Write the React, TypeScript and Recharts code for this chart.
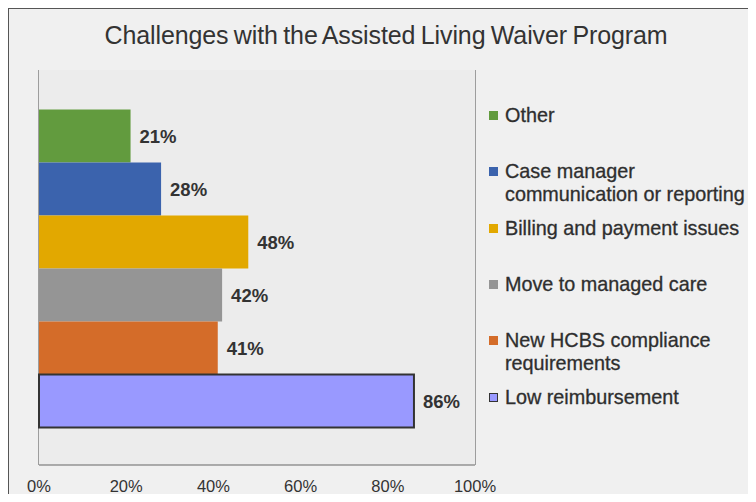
import React from "react"
import { Bar, BarChart, CartesianGrid, LabelList, XAxis, YAxis } from "recharts"

const seriesKeys = ["other", "caseManager", "billing", "managedCare", "hcbs", "reimbursement"]
const seriesNames = [
  "Other",
  "Case manager communication or reporting",
  "Billing and payment issues",
  "Move to managed care",
  "New HCBS compliance requirements",
  "Low reimbursement",
]
const seriesValues = [21, 28, 48, 42, 41, 86]
const seriesColors = ["#629b3e", "#3b63ad", "#e2a800", "#959595", "#d46c29", "#9999ff"]
const legendLines = [
  ["Other"],
  ["Case manager", "communication or reporting"],
  ["Billing and payment issues"],
  ["Move to managed care"],
  ["New HCBS compliance", "requirements"],
  ["Low reimbursement"],
]
const xTicks = [0, 20, 40, 60, 80, 100]

const row: Record<string, number | string> = { name: "Challenges" }
seriesKeys.forEach((k, i) => {
  row[k] = seriesValues[i]
})
const data = [row]

const font = "'Liberation Sans', Arial, sans-serif"

function ChartLegend() {
  return (
    <div
      style={{
        position: "absolute",
        left: 489,
        top: 104,
        fontFamily: font,
        fontSize: 19.8,
        color: "#2e2e2e",
        WebkitTextStroke: "0.3px #2e2e2e",
      }}
    >
      {legendLines.map((lines, i) => (
        <div key={i} style={{ position: "absolute", top: i * 56.3, left: 0, whiteSpace: "nowrap", lineHeight: "23px" }}>
          <span
            style={{
              position: "absolute",
              left: 0,
              top: 7,
              width: i === 5 ? 7 : 9,
              height: i === 5 ? 7 : 9,
              background: seriesColors[i],
              border: i === 5 ? "1px solid #333" : "none",
            }}
          />
          <div style={{ marginLeft: 16 }}>
            {lines.map((l, j) => (
              <div key={j}>{l}</div>
            ))}
          </div>
        </div>
      ))}
    </div>
  )
}

export default function App() {
  return (
    <div style={{ position: "relative", width: 756, height: 502, margin: -8, overflow: "hidden", background: "#fff" }}>
      <div
        style={{
          position: "absolute",
          left: 7,
          top: 7,
          width: 760,
          height: 510,
          border: "2px solid #555",
          background: "#f0f0f0",
        }}
      />
      <div
        style={{
          position: "absolute",
          left: 0,
          top: 21,
          width: 772,
          textAlign: "center",
          fontFamily: font,
          fontSize: 25,
          color: "#333",
          wordSpacing: -1.5,
          letterSpacing: -0.1,
        }}
      >
        Challenges with the Assisted Living Waiver Program
      </div>
      <div style={{ position: "absolute", left: 0, top: 0 }}>
        <BarChart
          width={756}
          height={502}
          data={data}
          layout="vertical"
          margin={{ top: 70, left: 39, right: 281, bottom: 7 }}
          barCategoryGap="10%"
          barGap={0}
        >
          <rect x={39} y={70} width={436} height={395} fill="#ececec" />
          <CartesianGrid horizontal={false} stroke="#666" strokeWidth={1.2} />
          <XAxis
            type="number"
            domain={[0, 100]}
            ticks={xTicks}
            tickFormatter={(v: number) => v + "%"}
            axisLine={{ stroke: "#666", strokeWidth: 1.2 }}
            tickLine={false}
            tick={{ fill: "#333", fontSize: 16.5, fontFamily: font }}
            tickMargin={9}
            height={30}
            interval={0}
          />
          <YAxis type="category" dataKey="name" hide />
          {seriesKeys.map((k, i) => (
            <Bar
              key={k}
              dataKey={k}
              name={seriesNames[i]}
              fill={seriesColors[i]}
              stroke={i === 5 ? "#333" : undefined}
              strokeWidth={i === 5 ? 2 : 0}
              isAnimationActive={false}
            >
              <LabelList
                dataKey={k}
                position="right"
                offset={9}
                formatter={(v: number) => v + "%"}
                fill="#333"
                fontSize={18.5}
                fontWeight="bold"
                fontFamily={font}
              />
            </Bar>
          ))}
        </BarChart>
      </div>
      <ChartLegend />
    </div>
  )
}
